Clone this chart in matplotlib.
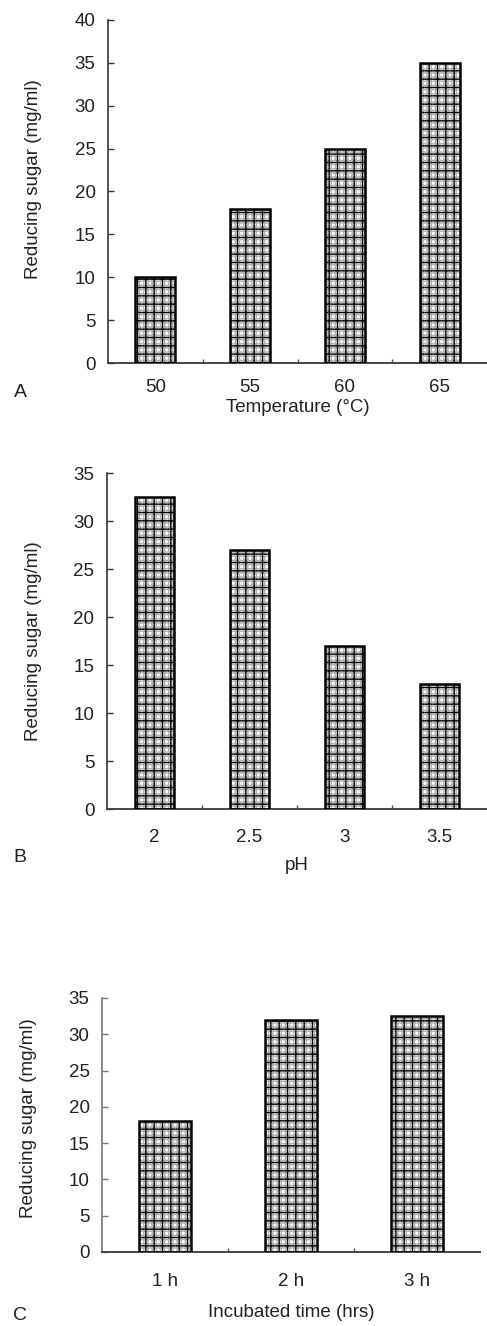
import matplotlib
matplotlib.use("Agg")
import matplotlib.pyplot as plt
import numpy as np

# Data
temp_labels = ["50", "55", "60", "65"]
temp_sugar = [10, 18, 25, 35]

ph_labels = ["2", "2.5", "3", "3.5"]
ph_sugar = [32.5, 27, 17, 13]

time_labels = ["1 h", "2 h", "3 h"]
time_sugar = [18, 32, 32.5]

plt.rcParams["font.family"] = ["Liberation Sans", "DejaVu Sans"]
plt.rcParams["hatch.linewidth"] = 1.0

W, H = 487, 1326
TXT = "#222222"
FS = 13.5


def px_rect(left, right, top, bottom):
    """Axes rectangle in figure fractions from pixel edges."""
    return [left / W, 1 - bottom / H, (right - left) / W, (bottom - top) / H]


def bar_panel(ax, labels, values, ymax, width, xlabel, tick_pad, xlab_y, ylab_xy, spine_col):
    x = np.arange(len(labels))
    # fine grey texture underneath, coarse black grid on top
    ax.bar(x, values, width=width, color="white", edgecolor="#b0b0b0",
           linewidth=0, hatch="++++", zorder=2)
    ax.bar(x, values, width=width, color="none", edgecolor="black",
           linewidth=1.8, hatch="++", zorder=3)
    ax.set_xlim(-0.5, len(labels) - 0.5)
    ax.set_ylim(0, ymax)
    ax.set_yticks(np.arange(0, ymax + 1, 5))
    ax.set_xticks(x)
    ax.set_xticklabels(labels)
    # small marks between categories, like the Excel original
    ax.set_xticks(np.arange(0.5, len(labels) - 0.5), minor=True)
    ax.tick_params(axis="x", which="major", length=0, pad=tick_pad,
                   labelsize=FS, labelcolor=TXT)
    ax.tick_params(axis="x", which="minor", length=3, direction="in",
                   color="#555555", width=1)
    ax.tick_params(axis="y", which="major", length=4, direction="in",
                   pad=9, labelsize=FS, labelcolor=TXT, color=spine_col, width=1)
    for s in ["top", "right"]:
        ax.spines[s].set_visible(False)
    ax.spines["left"].set_color(spine_col)
    ax.spines["left"].set_linewidth(1.2)
    ax.spines["bottom"].set_color("#444444")
    ax.spines["bottom"].set_linewidth(1.4)
    ax.set_xlabel(xlabel, fontsize=FS, color=TXT, va="top")
    ax.xaxis.set_label_coords(0.5, xlab_y)
    ax.set_ylabel("Reducing sugar (mg/ml)", fontsize=FS, color=TXT)
    ax.yaxis.set_label_coords(*ylab_xy)


fig = plt.figure(figsize=(W / 100, H / 100), dpi=100)

ax_a = fig.add_axes(px_rect(108, 487, 20, 363))
bar_panel(ax_a, temp_labels, temp_sugar, 40, 0.42, "Temperature (°C)",
          11.7, -0.106, (-0.174, 0.536), "#333333")

ax_b = fig.add_axes(px_rect(107, 487, 473, 809))
bar_panel(ax_b, ph_labels, ph_sugar, 35, 0.42, "pH",
          14.7, -0.144, (-0.171, 0.5), "#333333")

ax_c = fig.add_axes(px_rect(102, 480, 998, 1252))
bar_panel(ax_c, time_labels, time_sugar, 35, 0.41, "Incubated time (hrs)",
          15.4, -0.206, (-0.172, 0.528), "#777777")

# panel letters
for letter, ypx in [("A", 392), ("B", 858), ("C", 1315)]:
    fig.text(20 / W, 1 - ypx / H, letter, fontsize=14, color=TXT,
             ha="center", va="center")

fig.savefig("out.png", dpi=100, facecolor="white")
